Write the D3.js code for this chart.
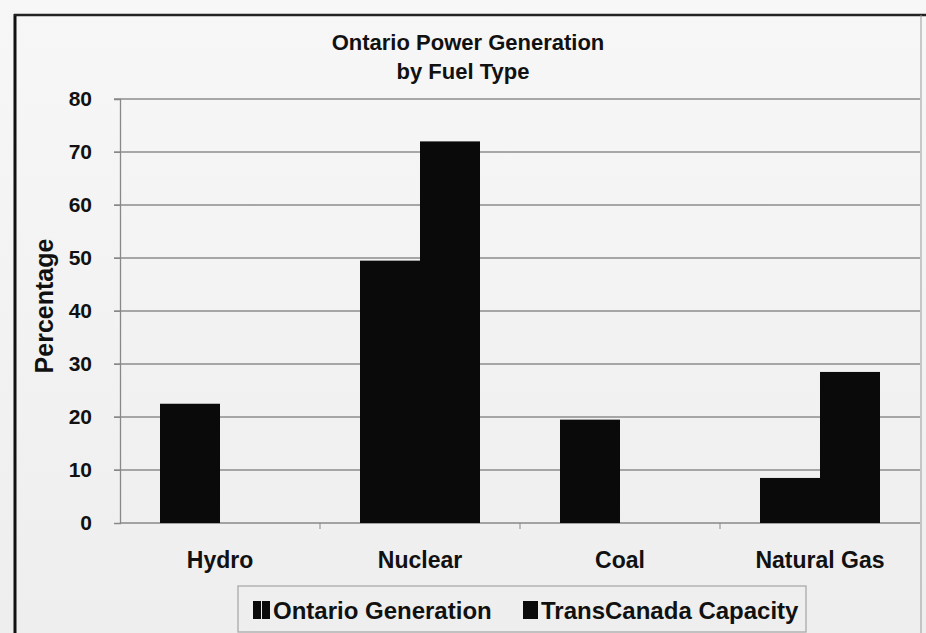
<!DOCTYPE html>
<html>
<head>
<meta charset="utf-8">
<script src="https://cdn.jsdelivr.net/npm/d3@7"></script>
<style>
  html, body { margin: 0; padding: 0; background: #f1f1f1; }
  svg text { font-family: "Liberation Sans", Arial, sans-serif; font-weight: bold; fill: #111; }
</style>
</head>
<body>
<div id="chart"></div>
<script>
(function(d3) {
  'use strict';

  var categories = ['Hydro', 'Nuclear', 'Coal', 'Natural Gas'];
  var seriesNames = ['Ontario Generation', 'TransCanada Capacity'];
  var ontarioGeneration = [22.5, 49.5, 19.5, 8.5];
  var transCanadaCapacity = [0, 72, 0, 28.5];
  var yTicks = [0, 10, 20, 30, 40, 50, 60, 70, 80];

  var width = 926, height = 633;
  var plot = { left: 120, right: 920, top: 99, bottom: 523 };

  var svg = d3.select('#chart').append('svg')
    .attr('width', width)
    .attr('height', height);

  // scanned-page look: faint gradient background
  var defs = svg.append('defs');
  var grad = defs.append('linearGradient')
    .attr('id', 'bg').attr('x1', 0).attr('y1', 0).attr('x2', 0).attr('y2', 1);
  grad.append('stop').attr('offset', '0%').attr('stop-color', '#f7f7f7');
  grad.append('stop').attr('offset', '100%').attr('stop-color', '#eeeeee');

  svg.append('rect')
    .attr('x', 0).attr('y', 0).attr('width', width).attr('height', height)
    .attr('fill', 'url(#bg)');

  var x0 = d3.scaleBand()
    .domain(categories)
    .range([plot.left, plot.right])
    .paddingInner(0.4)
    .paddingOuter(0.2);

  var x1 = d3.scaleBand()
    .domain(seriesNames)
    .range([0, x0.bandwidth()]);

  var y = d3.scaleLinear()
    .domain([0, 80])
    .range([plot.bottom, plot.top]);

  // gridlines
  svg.append('g')
    .selectAll('line').data(yTicks.filter(function(t) { return t > 0; }))
    .enter().append('line')
    .attr('x1', plot.left - 6).attr('x2', plot.right)
    .attr('y1', function(d) { return y(d); })
    .attr('y2', function(d) { return y(d); })
    .attr('stroke', '#8c8c8c')
    .attr('stroke-width', 1.3);

  // y axis
  var yAxis = svg.append('g')
    .attr('transform', 'translate(' + plot.left + ',0)')
    .call(d3.axisLeft(y).tickValues(yTicks).tickSize(6).tickPadding(22));
  yAxis.select('.domain').attr('stroke', '#888').attr('stroke-width', 1.3);
  yAxis.selectAll('.tick line').attr('stroke', '#888');
  yAxis.selectAll('.tick text')
    .attr('font-size', 21)
    .attr('font-family', '"Liberation Sans", Arial, sans-serif')
    .attr('font-weight', 'bold')
    .attr('fill', '#111');

  // x axis with ticks at category boundaries
  var xAxisG = svg.append('g');
  xAxisG.append('line')
    .attr('x1', plot.left).attr('x2', plot.right)
    .attr('y1', plot.bottom).attr('y2', plot.bottom)
    .attr('stroke', '#888').attr('stroke-width', 1.3);
  var gap = x0.step() - x0.bandwidth();
  xAxisG.selectAll('line.tick').data(categories.slice(1))
    .enter().append('line')
    .attr('class', 'tick')
    .attr('x1', function(d) { return x0(d) - gap / 2; })
    .attr('x2', function(d) { return x0(d) - gap / 2; })
    .attr('y1', plot.bottom).attr('y2', plot.bottom + 6)
    .attr('stroke', '#888');

  xAxisG.selectAll('text').data(categories)
    .enter().append('text')
    .attr('x', function(d) { return x0(d) + x0.bandwidth() / 2; })
    .attr('y', 568)
    .attr('text-anchor', 'middle')
    .attr('font-size', 23)
    .text(function(d) { return d; });

  // bars
  var rows = categories.map(function(c, i) {
    return { category: c, values: [ontarioGeneration[i], transCanadaCapacity[i]] };
  });

  var groups = svg.append('g').selectAll('g').data(rows)
    .enter().append('g')
    .attr('transform', function(d) { return 'translate(' + x0(d.category) + ',0)'; });

  groups.selectAll('rect')
    .data(function(d) {
      return d.values.map(function(v, j) { return { name: seriesNames[j], value: v }; });
    })
    .enter().append('rect')
    .attr('x', function(d) { return x1(d.name); })
    .attr('y', function(d) { return y(d.value); })
    .attr('width', x1.bandwidth())
    .attr('height', function(d) { return plot.bottom - y(d.value); })
    .attr('fill', '#0a0a0a');

  // title
  svg.append('text')
    .attr('x', 468).attr('y', 50)
    .attr('text-anchor', 'middle')
    .attr('font-size', 22)
    .text('Ontario Power Generation');
  svg.append('text')
    .attr('x', 463).attr('y', 79)
    .attr('text-anchor', 'middle')
    .attr('font-size', 22)
    .text('by Fuel Type');

  // y axis title
  svg.append('text')
    .attr('transform', 'translate(53,306) rotate(-90)')
    .attr('text-anchor', 'middle')
    .attr('font-size', 25)
    .text('Percentage');

  // legend
  var legend = svg.append('g');
  legend.append('rect')
    .attr('x', 238).attr('y', 586)
    .attr('width', 568).attr('height', 46)
    .attr('fill', 'none')
    .attr('stroke', '#aaa')
    .attr('stroke-width', 1.3);

  var legendX = [253, 523];
  seriesNames.forEach(function(name, i) {
    if (i === 0) {
      // first swatch reads as two narrow bars in the scan
      legend.append('rect')
        .attr('x', legendX[i]).attr('y', 601)
        .attr('width', 8).attr('height', 18)
        .attr('fill', '#0a0a0a');
      legend.append('rect')
        .attr('x', legendX[i] + 9).attr('y', 601)
        .attr('width', 8).attr('height', 18)
        .attr('fill', '#0a0a0a');
    } else {
      legend.append('rect')
        .attr('x', legendX[i]).attr('y', 601)
        .attr('width', 15).attr('height', 18)
        .attr('fill', '#0a0a0a');
    }
    legend.append('text')
      .attr('x', legendX[i] + (i === 0 ? 20 : 18)).attr('y', 619)
      .attr('font-size', 24)
      .text(name);
  });

  // page frame
  svg.append('line')
    .attr('x1', 15).attr('x2', 15).attr('y1', 14).attr('y2', height)
    .attr('stroke', '#111').attr('stroke-width', 3);
  svg.append('line')
    .attr('x1', 14).attr('x2', width).attr('y1', 15).attr('y2', 15)
    .attr('stroke', '#222').attr('stroke-width', 2.5);
  svg.append('line')
    .attr('x1', 921).attr('x2', 921).attr('y1', 15).attr('y2', height)
    .attr('stroke', '#999').attr('stroke-width', 1);
}(d3));
</script>
</body>
</html>
